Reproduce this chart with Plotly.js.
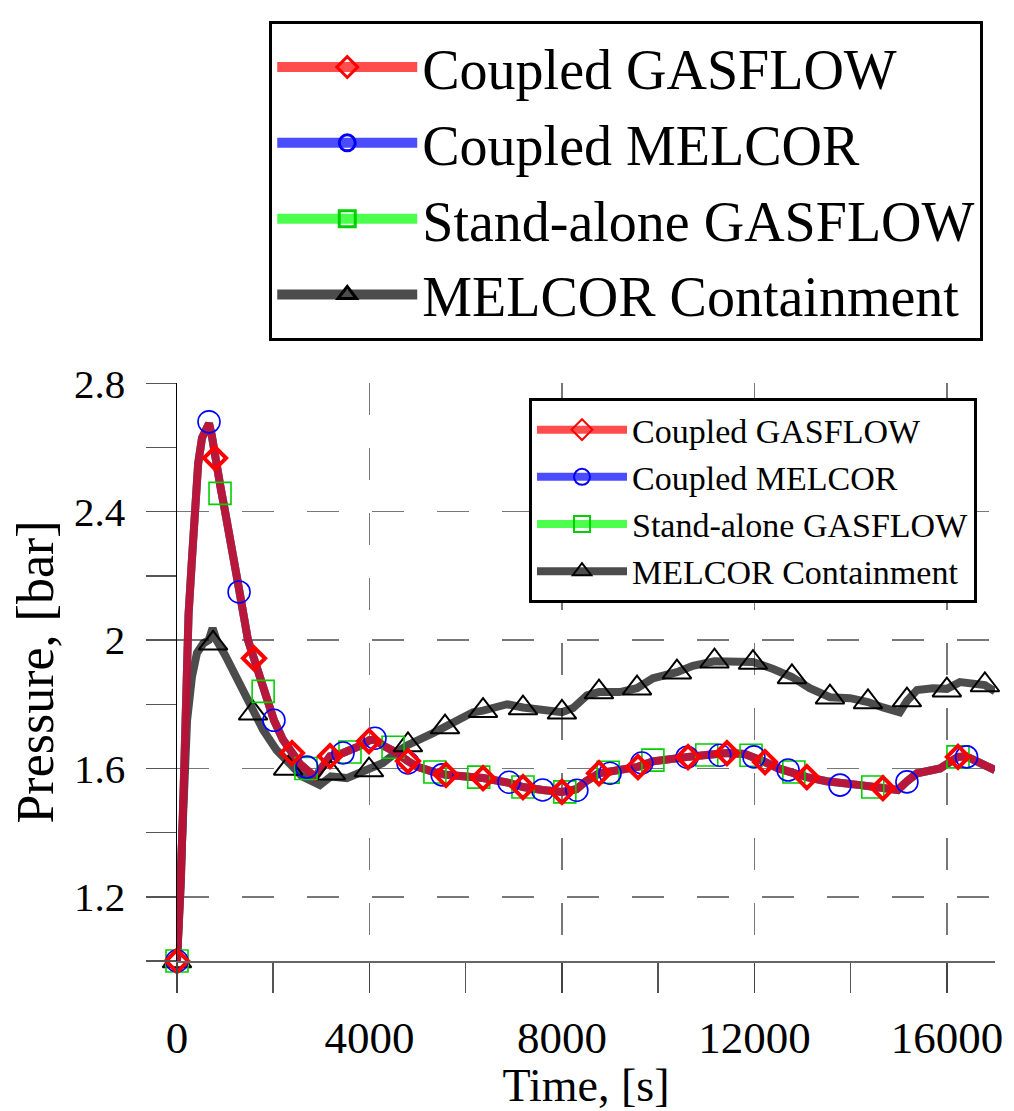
<!DOCTYPE html>
<html><head><meta charset="utf-8">
<script src="https://cdn.plot.ly/plotly-3.0.1.min.js"></script>
<style>html,body{margin:0;padding:0;background:#fff}#chart{width:1014px;height:1111px}</style>
</head><body><div id="chart"></div>
<script>
// ---------- data ----------
const seriesNames = ['Coupled GASFLOW', 'Coupled MELCOR', 'Stand-alone GASFLOW', 'MELCOR Containment'];

// continuous curves (time [s], pressure [bar])
const coupledLineT = [0, 80, 150, 190, 240, 310, 375, 440, 520, 600, 665, 720, 790, 900, 1000, 1150, 1300, 1475, 1600, 1790, 2015, 2200, 2390, 2550, 2700, 2870, 3000, 3180, 3450, 3600, 3800, 4000, 4115, 4300, 4490, 4800, 5000, 5360, 5590, 6000, 6360, 6900, 7190, 7600, 8000, 8300, 8500, 8770, 9000, 9300, 9580, 9890, 10300, 10620, 11000, 11430, 11800, 12000, 12220, 12500, 12820, 13090, 13500, 13780, 14200, 14670, 14980, 15170, 15380, 15860, 16230, 16400, 16700, 17000];
const coupledGasflowP = [1.00, 1.25, 1.60, 1.90, 2.08, 2.25, 2.42, 2.55, 2.63, 2.665, 2.675, 2.64, 2.567, 2.48, 2.40, 2.26, 2.15, 2.00, 1.943, 1.84, 1.75, 1.69, 1.648, 1.615, 1.595, 1.573, 1.60, 1.638, 1.648, 1.655, 1.67, 1.688, 1.69, 1.67, 1.655, 1.623, 1.605, 1.588, 1.58, 1.575, 1.57, 1.555, 1.542, 1.533, 1.527, 1.535, 1.56, 1.585, 1.59, 1.595, 1.605, 1.622, 1.632, 1.636, 1.642, 1.648, 1.645, 1.636, 1.62, 1.60, 1.585, 1.573, 1.56, 1.553, 1.548, 1.539, 1.533, 1.56, 1.585, 1.60, 1.636, 1.638, 1.615, 1.595];
const coupledMelcorP = [1.00, 1.25, 1.60, 1.90, 2.08, 2.25, 2.42, 2.55, 2.63, 2.665, 2.675, 2.64, 2.567, 2.48, 2.40, 2.26, 2.15, 2.00, 1.943, 1.84, 1.75, 1.69, 1.648, 1.615, 1.595, 1.573, 1.60, 1.638, 1.648, 1.655, 1.67, 1.688, 1.69, 1.67, 1.655, 1.623, 1.605, 1.588, 1.58, 1.575, 1.57, 1.555, 1.542, 1.533, 1.527, 1.535, 1.56, 1.585, 1.59, 1.595, 1.605, 1.622, 1.632, 1.636, 1.642, 1.648, 1.645, 1.636, 1.62, 1.60, 1.585, 1.573, 1.56, 1.553, 1.548, 1.539, 1.533, 1.56, 1.585, 1.60, 1.636, 1.638, 1.615, 1.595];
const standaloneGasflowP = [1.00, 1.25, 1.60, 1.90, 2.08, 2.25, 2.42, 2.55, 2.63, 2.665, 2.675, 2.64, 2.567, 2.48, 2.40, 2.26, 2.15, 2.00, 1.943, 1.84, 1.75, 1.69, 1.648, 1.615, 1.595, 1.573, 1.60, 1.638, 1.648, 1.655, 1.67, 1.688, 1.69, 1.67, 1.655, 1.623, 1.605, 1.588, 1.58, 1.575, 1.57, 1.555, 1.542, 1.533, 1.527, 1.535, 1.56, 1.585, 1.59, 1.595, 1.605, 1.622, 1.632, 1.636, 1.642, 1.648, 1.645, 1.636, 1.62, 1.60, 1.585, 1.573, 1.56, 1.553, 1.548, 1.539, 1.533, 1.56, 1.585, 1.60, 1.636, 1.638, 1.615, 1.595];

const containmentLineT = [0, 100, 150, 210, 310, 415, 550, 660, 740, 820, 1000, 1245, 1450, 1580, 1790, 2070, 2350, 2600, 2970, 3200, 3530, 3800, 4000, 4280, 4600, 4800, 5320, 5570, 6150, 6360, 6860, 7190, 7540, 8000, 8230, 8520, 8770, 9200, 9560, 9890, 10390, 10720, 11170, 11560, 11970, 12390, 12780, 13150, 13570, 13990, 14360, 14670, 15020, 15170, 15380, 15710, 16000, 16270, 16790, 17000];
const containmentP = [1.00, 1.30, 1.50, 1.75, 1.885, 1.96, 1.99, 2.00, 2.037, 2.00, 1.953, 1.88, 1.82, 1.775, 1.72, 1.657, 1.61, 1.575, 1.548, 1.575, 1.57, 1.588, 1.597, 1.617, 1.655, 1.673, 1.71, 1.729, 1.775, 1.78, 1.80, 1.79, 1.785, 1.775, 1.788, 1.828, 1.838, 1.838, 1.85, 1.881, 1.90, 1.92, 1.934, 1.936, 1.932, 1.91, 1.885, 1.85, 1.822, 1.819, 1.807, 1.79, 1.775, 1.81, 1.844, 1.85, 1.848, 1.869, 1.86, 1.84];

// marker samples
const gasflowMarkT = [0, 790, 1600, 2390, 3180, 3990, 4800, 5590, 6360, 7190, 8000, 8770, 9580, 10620, 11430, 12220, 13090, 14670, 16230];
const gasflowMarkP = [1.00, 2.567, 1.943, 1.648, 1.638, 1.685, 1.623, 1.58, 1.57, 1.542, 1.527, 1.585, 1.604, 1.635, 1.648, 1.62, 1.573, 1.539, 1.636];
const melcorMarkT = [0, 665, 1290, 2015, 2700, 3450, 4115, 4800, 5510, 6900, 7600, 8310, 9000, 9660, 10600, 11280, 11990, 12700, 13780, 15170, 16410];
const melcorMarkP = [1.00, 2.68, 2.15, 1.75, 1.604, 1.648, 1.694, 1.617, 1.58, 1.557, 1.533, 1.532, 1.585, 1.617, 1.635, 1.641, 1.636, 1.595, 1.548, 1.558, 1.636];
const standaloneMarkT = [0, 894, 1790, 2680, 3595, 4490, 5360, 6270, 7190, 8060, 8960, 9890, 11010, 11930, 12820, 14460, 16230];
const standaloneMarkP = [1.00, 2.457, 1.84, 1.60, 1.651, 1.666, 1.589, 1.573, 1.542, 1.527, 1.588, 1.626, 1.642, 1.641, 1.589, 1.542, 1.636];
const containmentMarkT = [0, 750, 1580, 2310, 3200, 3990, 4800, 5570, 6360, 7190, 8000, 8770, 9560, 10390, 11170, 11970, 12780, 13570, 14360, 15170, 16000, 16790];
const containmentMarkP = [1.00, 1.99, 1.772, 1.60, 1.585, 1.595, 1.673, 1.729, 1.78, 1.788, 1.775, 1.838, 1.85, 1.90, 1.934, 1.93, 1.885, 1.822, 1.807, 1.813, 1.844, 1.86];

// ---------- styles ----------
const FONT = 'Liberation Serif, Times New Roman, serif';
const lineColors = ['rgba(255,0,0,0.7)', 'rgba(0,0,255,0.7)', 'rgba(0,255,0,0.7)', 'rgba(0,0,0,0.7)'];
const markColors = ['#ff0000', '#0000ff', '#00d000', '#000000'];
const markSymbols = ['diamond-open', 'circle-open', 'square-open', 'triangle-up-open'];
const markSizes = [17, 22, 22, 25];
const markWidths = [4, 1.6, 1.6, 2];

const lineT = [coupledLineT, coupledLineT, coupledLineT, containmentLineT];
const lineP = [coupledGasflowP, coupledMelcorP, standaloneGasflowP, containmentP];
const markT = [gasflowMarkT, melcorMarkT, standaloneMarkT, containmentMarkT];
const markP = [gasflowMarkP, melcorMarkP, standaloneMarkP, containmentMarkP];

const traces = [];
// lines: containment, stand-alone, melcor, gasflow (red on top)
[3, 2, 1, 0].forEach(i => {
  traces.push({
    type: 'scatter', mode: 'lines', x: lineT[i], y: lineP[i], name: seriesNames[i],
    showlegend: false, line: {color: lineColors[i], width: 8}, hoverinfo: 'skip'
  });
});
[3, 2, 1, 0].forEach(i => {
  traces.push({
    type: 'scatter', mode: 'markers', x: markT[i], y: markP[i], name: seriesNames[i],
    showlegend: false, cliponaxis: false,
    marker: {symbol: markSymbols[i], size: markSizes[i], color: markColors[i], line: {width: markWidths[i], color: markColors[i]}}
  });
});
// legend entries (both legends)
[['legend', 8], ['legend2', 10]].forEach(([lg, lw]) => {
  [0, 1, 2, 3].forEach(i => {
    traces.push({
      type: 'scatter', mode: 'lines+markers', x: [null], y: [null], name: seriesNames[i],
      legend: lg, showlegend: true,
      line: {color: lineColors[i], width: lw},
      marker: {symbol: markSymbols[i], size: 16, color: markColors[i], line: {width: lg === 'legend2' ? 3 : 2, color: markColors[i]}}
    });
  });
});

const layout = {
  width: 1014, height: 1111,
  margin: {l: 177, r: 19, t: 383, b: 150, autoexpand: false},
  paper_bgcolor: '#fff', plot_bgcolor: '#fff',
  font: {family: FONT, color: '#000'},
  showlegend: true,
  xaxis: {
    range: [0, 17000], tickmode: 'linear', tick0: 0, dtick: 4000, tickformat: 'd',
    showgrid: true, gridcolor: '#777', gridwidth: 1.5, griddash: '32px,33px',
    zeroline: false, showline: true, linecolor: '#666', linewidth: 2,
    ticks: 'outside', ticklen: 30, tickwidth: 1.5, tickcolor: '#444',
    minor: {dtick: 2000, tick0: 0, ticklen: 30, tickwidth: 1.5, tickcolor: '#555', showgrid: false},
    tickfont: {family: FONT, size: 45, color: '#000'}, ticklabelstandoff: 6,
    title: {text: 'Time, [s]', font: {family: FONT, size: 46, color: '#000'}, standoff: 0}
  },
  yaxis: {
    range: [1.0, 2.801], tickmode: 'linear', tick0: 0, dtick: 0.4,
    showgrid: true, gridcolor: '#777', gridwidth: 1.5, griddash: '32px,33px',
    zeroline: false, showline: true, linecolor: '#000', linewidth: 1.5,
    ticks: 'outside', ticklen: 30, tickwidth: 1.5, tickcolor: '#555',
    minor: {dtick: 0.2, tick0: 0, ticklen: 30, tickwidth: 1.5, tickcolor: '#555', showgrid: false},
    tickfont: {family: FONT, size: 41, color: '#000'}, ticklabelstandoff: 12,
    title: {text: 'Pressure, [bar]', font: {family: FONT, size: 52, color: '#000'}, standoff: 4}
  },
  legend: {
    x: 0.978, y: 0.974, xanchor: 'right', yanchor: 'top',
    bgcolor: '#fff', bordercolor: '#000', borderwidth: 3,
    font: {family: FONT, size: 34, color: '#000'}, itemwidth: 90, traceorder: 'normal'
  },
  legend2: {
    x: 0.5492, y: 1.626, xanchor: 'center', yanchor: 'top',
    bgcolor: '#fff', bordercolor: '#000', borderwidth: 3,
    font: {family: FONT, size: 56, color: '#000'}, itemwidth: 140, traceorder: 'normal'
  }
};

Plotly.newPlot('chart', traces, layout, {displayModeBar: false, staticPlot: true});
</script>
</body></html>
